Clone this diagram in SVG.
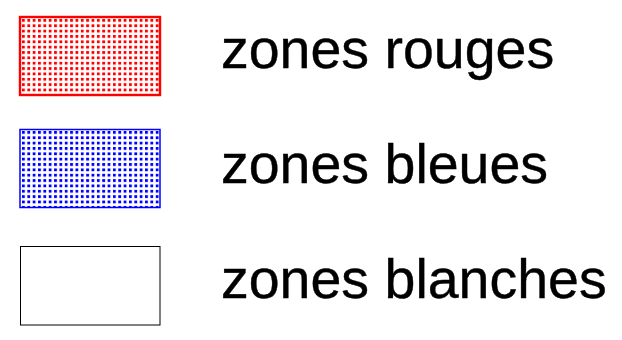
<svg xmlns="http://www.w3.org/2000/svg" width="622" height="340" viewBox="0 0 622 340">
<style>
  .lbl { font-family: "Liberation Sans", Arial, sans-serif; font-size: 55.5px; fill: #000; stroke: #000; stroke-width: 0.4px; }
</style>
<defs>
  <pattern id="redDots" patternUnits="userSpaceOnUse" x="22" y="19" width="5.35" height="5.35">
    <rect x="0" y="0" width="2.8" height="2.8" fill="#ff0000"/>
  </pattern>
  <pattern id="blueDots" patternUnits="userSpaceOnUse" x="22" y="131" width="5.35" height="5.35">
    <rect x="0" y="0" width="2.8" height="2.8" fill="#0000ff"/>
  </pattern>
</defs>
<rect width="622" height="340" fill="#fff"/>
<g id="rouge">
  <rect x="20" y="17" width="140" height="78" fill="url(#redDots)" stroke="#ff0000" stroke-width="2.4"/>
  <text class="lbl" x="221" y="67.5">zones rouges</text>
</g>
<g id="bleue">
  <rect x="20" y="129.5" width="140" height="78" fill="url(#blueDots)" stroke="#0000ff" stroke-width="1.5"/>
  <text class="lbl" x="221" y="182.5">zones bleues</text>
</g>
<g id="blanche">
  <rect x="20.5" y="246.5" width="139.5" height="78.5" fill="#fff" stroke="#000" stroke-width="1"/>
  <text class="lbl" x="221" y="297.5">zones blanches</text>
</g>
<g id="connectors"></g>
</svg>
